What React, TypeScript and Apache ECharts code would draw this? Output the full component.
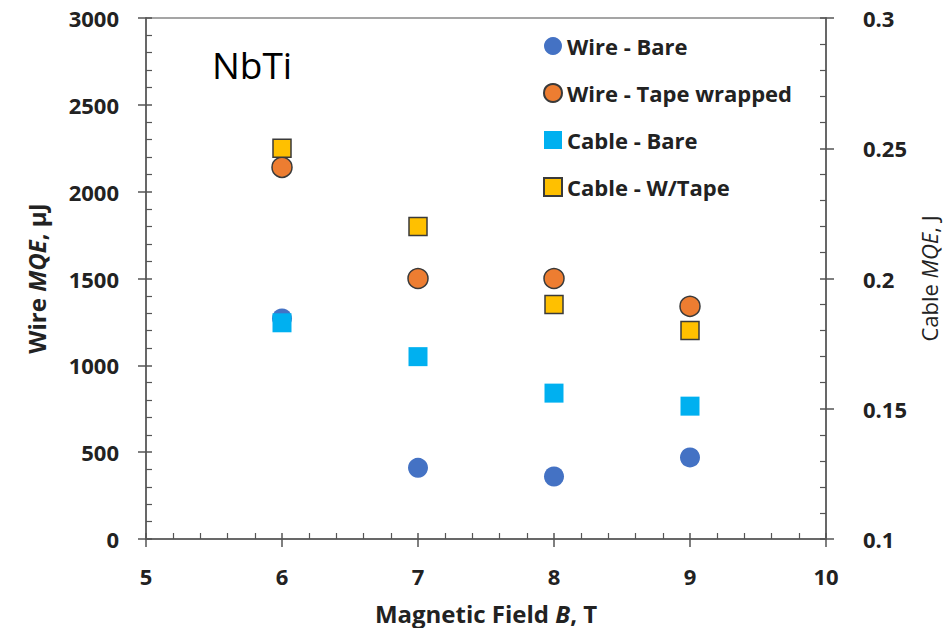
import React, { useEffect, useRef } from "react";
import * as echarts from "echarts";

const fieldT = [6, 7, 8, 9];
const wireBare = [1270, 410, 360, 470];
const wireTape = [2140, 1500, 1500, 1340];
const cableBare = [0.183, 0.17, 0.156, 0.151];
const cableTape = [0.25, 0.22, 0.19, 0.18];
const seriesNames = ["Wire - Bare", "Wire - Tape wrapped", "Cable - Bare", "Cable - W/Tape"];

const FONT = "'Open Sans', 'Noto Sans', sans-serif";
const AX = "#555";
const TXT = "#222";

export default function App() {
  const ref = useRef<HTMLDivElement>(null);
  useEffect(() => {
    if (!ref.current) return;
    const chart = echarts.init(ref.current, null, { renderer: "svg" });
    const pts = (ys: number[]) => fieldT.map((x, i) => [x, ys[i]]);
    const labelStyle = { fontFamily: FONT, fontWeight: "bold" as const, fontSize: 22, color: TXT };
    const nameRich = (size: number, weight: string) => ({
      rich: {
        b: { fontFamily: FONT, fontWeight: weight, fontSize: size, color: TXT, lineHeight: size },
        i: { fontFamily: FONT, fontWeight: weight, fontStyle: "italic", fontSize: size, color: TXT, lineHeight: size },
      },
    });
    const hiddenTickAxis = (extra: any) => ({
      type: "value",
      axisLine: { show: false },
      axisTick: { show: true, inside: false, length: 8, lineStyle: { color: AX, width: 1.5 } },
      axisLabel: { show: false },
      splitLine: { show: false },
      ...extra,
    });
    chart.setOption({
      animation: false,
      backgroundColor: "#fff",
      grid: {
        left: 146,
        right: 117,
        top: 18,
        bottom: 89,
        show: true,
        borderColor: "#888",
        borderWidth: 1.5,
        containLabel: false,
        outerBoundsMode: "none",
      },
      textStyle: { fontFamily: FONT },
      legend: {
        orient: "vertical",
        left: 538,
        top: 29,
        itemGap: 23,
        itemWidth: 18,
        itemHeight: 18,
        textStyle: { fontFamily: FONT, fontWeight: "bold", fontSize: 22, color: TXT, lineHeight: 24 },
        data: seriesNames,
      },
      graphic: [
        {
          type: "text",
          left: 212,
          top: 46,
          style: { text: "NbTi", font: `37px ${FONT}`, fill: "#000" },
        },
      ],
      xAxis: [
        {
          type: "value",
          position: "bottom",
          min: 5,
          max: 10,
          interval: 1,
          name: "{b|Magnetic Field }{i|B}{b|, T}",
          nameLocation: "middle",
          nameGap: 62,
          nameTextStyle: nameRich(24, "bold"),
          axisLine: { show: true, lineStyle: { color: AX, width: 1.5 } },
          axisTick: { show: true, inside: true, length: 6, lineStyle: { color: AX, width: 1.5 } },
          minorTick: { show: true, splitNumber: 5, length: 6, lineStyle: { color: AX, width: 1.2 } },
          axisLabel: { ...labelStyle, margin: 26 },
          splitLine: { show: false },
        },
        hiddenTickAxis({ position: "bottom", min: 5, max: 10, interval: 1 }),
      ],
      yAxis: [
        {
          type: "value",
          position: "left",
          min: 0,
          max: 3000,
          interval: 500,
          name: "{b|Wire }{i|MQE}{b|, μJ}",
          nameLocation: "middle",
          nameGap: 98,
          nameTextStyle: nameRich(24, "bold"),
          axisLine: { show: true, lineStyle: { color: AX, width: 1.5 } },
          axisTick: { show: true, inside: true, length: 6, lineStyle: { color: AX, width: 1.5 } },
          minorTick: { show: true, splitNumber: 5, length: 6, lineStyle: { color: AX, width: 1.2 } },
          axisLabel: { ...labelStyle, margin: 27, formatter: (v: number) => String(v) },
          splitLine: { show: false },
        },
        {
          type: "value",
          position: "right",
          min: 0.1,
          max: 0.3,
          interval: 0.05,
          name: "{b|Cable }{i|MQE}{b|, J}",
          nameLocation: "middle",
          nameGap: 84,
          nameTextStyle: nameRich(22, "normal"),
          axisLine: { show: true, lineStyle: { color: AX, width: 1.5 } },
          axisTick: { show: true, inside: true, length: 6, lineStyle: { color: AX, width: 1.5 } },
          minorTick: { show: true, splitNumber: 5, length: 6, lineStyle: { color: AX, width: 1.2 } },
          axisLabel: { ...labelStyle, margin: 37, formatter: (v: number) => String(+v.toFixed(2)) },
          splitLine: { show: false },
        },
        hiddenTickAxis({ position: "left", min: 0, max: 3000, interval: 500 }),
        hiddenTickAxis({ position: "right", min: 0.1, max: 0.3, interval: 0.05 }),
      ],
      series: [
        {
          name: seriesNames[0],
          type: "scatter",
          xAxisIndex: 0,
          yAxisIndex: 0,
          symbol: "circle",
          symbolSize: 20,
          itemStyle: { color: "#4472C4", opacity: 1 },
          data: pts(wireBare),
        },
        {
          name: seriesNames[1],
          type: "scatter",
          xAxisIndex: 0,
          yAxisIndex: 0,
          symbol: "circle",
          symbolSize: 20,
          itemStyle: { color: "#ED7D31", borderColor: "#3a3a3a", borderWidth: 1.5, opacity: 1 },
          data: pts(wireTape),
        },
        {
          name: seriesNames[2],
          type: "scatter",
          xAxisIndex: 0,
          yAxisIndex: 1,
          symbol: "rect",
          symbolSize: 19,
          itemStyle: { color: "#00B0F0", opacity: 1 },
          data: pts(cableBare),
        },
        {
          name: seriesNames[3],
          type: "scatter",
          xAxisIndex: 0,
          yAxisIndex: 1,
          symbol: "rect",
          symbolSize: 18,
          itemStyle: { color: "#FFC000", borderColor: "#3a3a3a", borderWidth: 1.5, opacity: 1 },
          data: pts(cableTape),
        },
      ],
    });
    return () => chart.dispose();
  }, []);
  return <div ref={ref} style={{ width: 943, height: 628, position: "absolute", left: 0, top: 0 }} />;
}
